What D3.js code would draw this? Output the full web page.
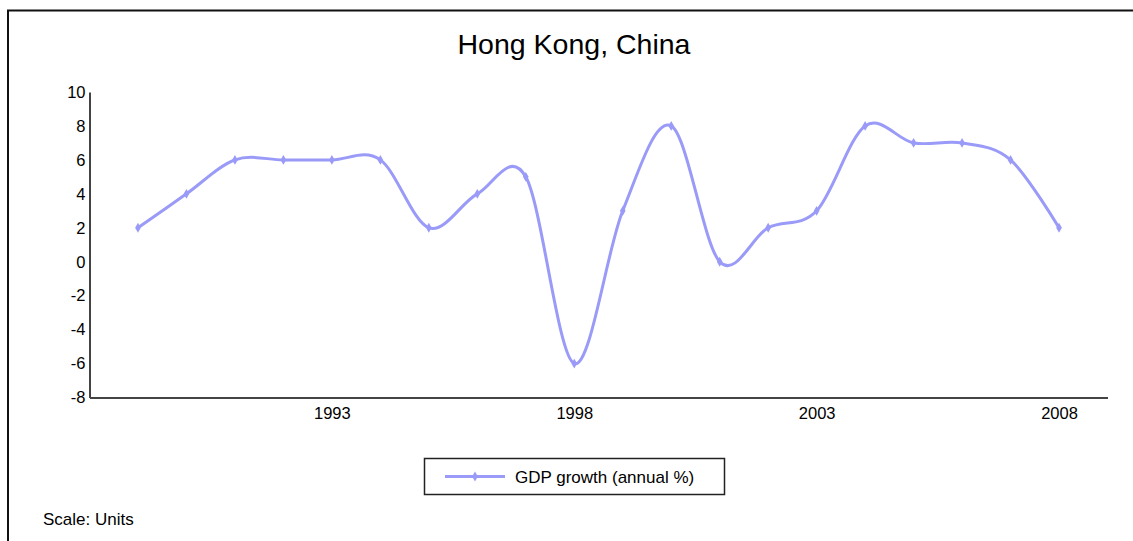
<!DOCTYPE html>
<html>
<head>
<meta charset="utf-8">
<script src="https://cdn.jsdelivr.net/npm/d3@7"></script>
<style>
  html, body { margin: 0; padding: 0; background: #fff; }
  svg { display: block; font-family: "Liberation Sans", Arial, sans-serif; }
</style>
</head>
<body>
<svg id="chart" width="1133" height="541"></svg>
<script>
const title = "Hong Kong, China";
const years = [1989, 1990, 1991, 1992, 1993, 1994, 1995, 1996, 1997, 1998,
               1999, 2000, 2001, 2002, 2003, 2004, 2005, 2006, 2007, 2008];
const gdpGrowth = [2, 4, 6, 6, 6, 6, 2, 4, 5, -6,
                   3, 8, 0, 2, 3, 8, 7, 7, 6, 2];
const seriesName = "GDP growth (annual %)";
const xTicks = [1993, 1998, 2003, 2008];
const yTicks = [-8, -6, -4, -2, 0, 2, 4, 6, 8, 10];
const footnote = "Scale: Units";

const svg = d3.select("#chart");
const W = 1133, H = 541;
const lineColor = "#9a9af8";
const axisColor = "#444";

// frame
svg.append("rect")
  .attr("x", 8).attr("y", 10.5)
  .attr("width", W + 20).attr("height", H + 20)
  .attr("fill", "none").attr("stroke", "#111").attr("stroke-width", 2);

const plot = { left: 89.5, right: 1107.5, top: 92, bottom: 397.5 };

const x = d3.scaleLinear().domain([1988, 2009]).range([plot.left, plot.right]);
const y = d3.scaleLinear().domain([-8, 10]).range([plot.bottom, plot.top]);

// title
svg.append("text")
  .attr("x", 574).attr("y", 54)
  .attr("text-anchor", "middle")
  .attr("font-size", 28.5).attr("fill", "#000")
  .text(title);

// y axis
const yAxis = d3.axisLeft(y).tickValues(yTicks).tickSize(0).tickPadding(4)
  .tickFormat(d => String(d));
const gy = svg.append("g").attr("transform", `translate(${plot.left},0)`).call(yAxis);
gy.select(".domain").attr("stroke", axisColor).attr("stroke-width", 2);
gy.selectAll("text").attr("font-size", 16.5).attr("fill", "#000")
  .attr("font-family", "Liberation Sans, Arial, sans-serif");

// x axis
const xAxis = d3.axisBottom(x).tickValues(xTicks).tickSize(0).tickPadding(10)
  .tickFormat(d => String(d));
const gx = svg.append("g").attr("transform", `translate(0,${plot.bottom})`).call(xAxis);
gx.select(".domain").attr("stroke", axisColor).attr("stroke-width", 2);
gx.selectAll("text").attr("font-size", 16.5).attr("fill", "#000")
  .attr("font-family", "Liberation Sans, Arial, sans-serif");

// series
const data = years.map((yr, i) => ({ year: yr, value: gdpGrowth[i] }));
const line = d3.line()
  .x(d => x(d.year)).y(d => y(d.value))
  .curve(d3.curveCardinal.tension(0));

svg.append("path")
  .datum(data)
  .attr("d", line)
  .attr("fill", "none")
  .attr("stroke", lineColor)
  .attr("stroke-width", 3)
  .attr("stroke-linejoin", "round");

const diamond = d3.symbol().type(d3.symbolDiamond).size(28);
svg.selectAll(".pt")
  .data(data)
  .join("path")
  .attr("class", "pt")
  .attr("transform", d => `translate(${x(d.year)},${y(d.value)})`)
  .attr("d", diamond)
  .attr("fill", lineColor);

// legend
const lg = svg.append("g");
lg.append("rect")
  .attr("x", 424.5).attr("y", 458.5)
  .attr("width", 300).attr("height", 36)
  .attr("fill", "#fff").attr("stroke", "#222").attr("stroke-width", 1.5);
lg.append("line")
  .attr("x1", 445).attr("x2", 505).attr("y1", 476.5).attr("y2", 476.5)
  .attr("stroke", lineColor).attr("stroke-width", 3);
lg.append("path")
  .attr("transform", "translate(475,476.5)")
  .attr("d", diamond).attr("fill", lineColor);
lg.append("text")
  .attr("x", 515).attr("y", 483)
  .attr("font-size", 17).attr("fill", "#000")
  .text(seriesName);

// footnote
svg.append("text")
  .attr("x", 43).attr("y", 525)
  .attr("font-size", 17).attr("fill", "#000")
  .text(footnote);
</script>
</body>
</html>
